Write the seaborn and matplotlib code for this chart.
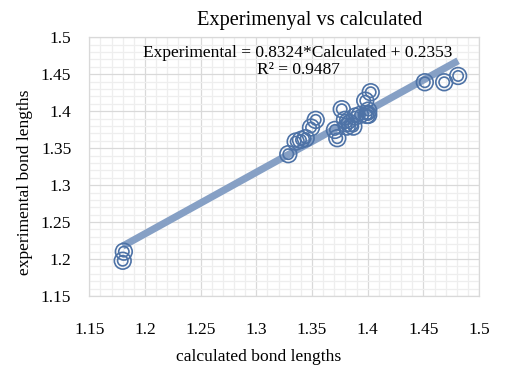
import matplotlib
matplotlib.use("Agg")
import matplotlib.pyplot as plt
from matplotlib.ticker import MultipleLocator
import seaborn as sns
import numpy as np
import pandas as pd

# 数据
calculated = [1.181, 1.180, 1.3287, 1.3353, 1.3401, 1.3443, 1.3491, 1.3533,
              1.3706, 1.3727, 1.3767, 1.3796, 1.3812, 1.3841, 1.3871, 1.3886,
              1.3931, 1.3978, 1.3991, 1.4005, 1.4005, 1.4027,
              1.4513, 1.4687, 1.4812]
experimental = [1.210, 1.1977, 1.3419, 1.3589, 1.3612, 1.3635, 1.3779, 1.3883,
                1.3747, 1.3635, 1.4027, 1.3883, 1.3792, 1.3838, 1.3792, 1.3927,
                1.395, 1.4143, 1.395, 1.395, 1.4008, 1.4257,
                1.4392, 1.4392, 1.4477]
slope = 0.8324
intercept = 0.2353
x_ticks = [1.15, 1.2, 1.25, 1.3, 1.35, 1.4, 1.45, 1.5]
y_ticks = [1.15, 1.2, 1.25, 1.3, 1.35, 1.4, 1.45, 1.5]

df = pd.DataFrame({"calc": calculated, "exp": experimental})
x_fit = np.array([min(calculated), max(calculated)])
fit = pd.DataFrame({"calc": x_fit, "exp": slope * x_fit + intercept})

sns.set_style("white")
plt.rcParams['font.family'] = ['Liberation Serif', 'DejaVu Serif']
plt.rcParams['text.color'] = 'black'

fig = plt.figure(figsize=(5.08, 3.78), dpi=100)
ax = fig.add_axes([0.1758, 0.2169, 0.7672, 0.6844])

# 趋势线
sns.lineplot(data=fit, x="calc", y="exp", ax=ax, color="#86a0c5",
             linewidth=5.2, zorder=2, solid_capstyle="butt")
# 双圈标记
ring = "#4d72a6"
sns.scatterplot(data=df, x="calc", y="exp", ax=ax, s=145, marker="o",
                facecolor="none", edgecolor=ring, linewidth=1.2, zorder=3)
sns.scatterplot(data=df, x="calc", y="exp", ax=ax, s=55, marker="o",
                facecolor="none", edgecolor=ring, linewidth=1.2, zorder=3)

ax.set_xlim(1.15, 1.5)
ax.set_ylim(1.15, 1.5)
ax.set_xticks(x_ticks)
ax.set_yticks(y_ticks)
ax.set_xticklabels([f"{t:g}" for t in x_ticks])
ax.set_yticklabels([f"{t:g}" for t in y_ticks])
ax.xaxis.set_minor_locator(MultipleLocator(0.01))
ax.yaxis.set_minor_locator(MultipleLocator(0.01))
ax.grid(which="minor", color="#eeeeee", linewidth=0.9, zorder=0)
ax.grid(which="major", color="#d9d9d9", linewidth=0.9, zorder=1)
ax.set_axisbelow(True)
ax.tick_params(which="both", length=0)
ax.tick_params(axis="x", pad=19, labelsize=12.5, labelcolor="black")
ax.tick_params(axis="y", pad=13, labelsize=12.5, labelcolor="black")
for sp in ax.spines.values():
    sp.set_color("#d9d9d9")
    sp.set_linewidth(0.9)
ax.set_xlabel("")
ax.set_ylabel("")

fig.text(310 / 508, 1 - 21 / 378, "Experimenyal vs calculated",
         ha="center", va="center", fontsize=14.7)
fig.text(298 / 508, 1 - 53 / 378, "Experimental = 0.8324*Calculated + 0.2353",
         ha="center", va="center", fontsize=12.5)
fig.text(298 / 508, 1 - 70 / 378, "R² = 0.9487",
         ha="center", va="center", fontsize=12.5)
fig.text(259 / 508, 1 - 357 / 378, "calculated bond lengths",
         ha="center", va="center", fontsize=12.6)
fig.text(25 / 508, 1 - 182 / 378, "experimental bond lengths",
         ha="center", va="center", fontsize=12.6, rotation=90)

fig.savefig("out.png", dpi=100)
